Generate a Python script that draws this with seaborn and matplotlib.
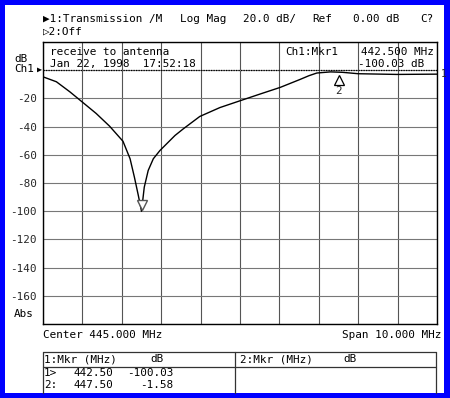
import numpy as np
import matplotlib
matplotlib.use("Agg")
import matplotlib.pyplot as plt
import seaborn as sns
from matplotlib.patches import Rectangle
from matplotlib.lines import Line2D

# Messkurve: Transmission in dB ueber Frequenz in MHz
freq_mhz = [440.00, 440.34, 440.68, 441.02, 441.35, 441.69, 442.03, 442.21,
            442.32, 442.42, 442.50, 442.57, 442.67, 442.80, 442.97, 443.35,
            443.56, 443.98, 444.49, 445.02, 445.51, 446.02, 446.52, 446.75,
            446.95, 447.30, 447.60, 448.00, 448.98, 450.00]
s21_db = [-4.7, -8.2, -15.3, -23.1, -30.7, -39.7, -50.4, -62.8,
          -75.9, -88.9, -100.03, -83.0, -71.1, -62.8, -56.9, -46.3,
          -41.6, -32.8, -26.5, -21.5, -16.9, -12.2, -6.6, -3.9,
          -2.0, -1.2, -1.5, -2.5, -3.0, -2.8]

# Marker
mkr_freq = [442.50, 447.50]
mkr_db = [-100.03, -1.58]

y_ticks = list(range(-180, 21, 20))
y_labels = ["" if t in (20, 0, -180) else str(t) for t in y_ticks]
x_ticks = list(range(440, 451))

W, H = 450, 398
MONO = ["DejaVu Sans Mono", "DejaVu Sans"]
FS = 7.9

sns.set_style("white")
plt.rcParams["font.family"] = MONO

fig = plt.figure(figsize=(W / 100, H / 100), dpi=100)
fig.patch.set_facecolor("#0000FF")
fig.add_artist(Rectangle((5 / W, 1 - 393 / H), 439 / W, 388 / H,
                         transform=fig.transFigure, facecolor="white",
                         edgecolor="none", zorder=-1))

def px(x, y):
    return x / W, 1 - y / H

def ftext(x, y, s, ha="left", size=FS):
    fx, fy = px(x, y)
    fig.text(fx, fy, s, ha=ha, va="center", fontsize=size, family=MONO,
             color="black")

def fline(x0, y0, x1, y1, lw=0.9, color="#333333"):
    a, b = px(x0, y0)
    c, d = px(x1, y1)
    fig.add_artist(Line2D([a, c], [b, d], transform=fig.transFigure,
                          color=color, lw=lw))

ax = fig.add_axes([43 / W, 1 - 324 / H, (437 - 43) / W, (324 - 42) / H])
ax.set_facecolor("white")

sns.lineplot(x=freq_mhz, y=s21_db, ax=ax, color="black", lw=1.0, zorder=3)

ax.set_xlim(440, 450)
ax.set_ylim(-180, 20)
ax.set_xticks(x_ticks)
ax.set_xticklabels([])
ax.set_yticks(y_ticks)
ax.set_yticklabels(y_labels, fontsize=FS, family=MONO)
ax.tick_params(length=0, pad=4.5)
ax.grid(True, axis="x", color="#555555", lw=0.8)
ax.grid(True, axis="y", color="#777777", lw=0.8)
ax.axhline(0, color="black", lw=0.9, ls=(0, (1, 1)), zorder=2)
ax.set_xlabel("")
ax.set_ylabel("")
for sp in ax.spines.values():
    sp.set_color("black")
    sp.set_linewidth(1.0)

# Marker 1 (aktiv) und Marker 2
ax.plot(mkr_freq[0], mkr_db[0] + 4.5, marker="v", ms=7, mfc="white",
        mec="#555555", mew=1.0, zorder=4)
ax.plot(mkr_freq[1], mkr_db[1] - 5.5, marker="^", ms=7, mfc="white",
        mec="black", mew=0.9, zorder=4)
ax.text(mkr_freq[1], mkr_db[1] - 13, "2", ha="center", va="center",
        fontsize=FS, family=MONO)
ax.annotate("1", xy=(freq_mhz[-1], s21_db[-1]), xytext=(2.5, 0),
            textcoords="offset points", ha="left", va="center",
            fontsize=FS - 1, family=MONO, annotation_clip=False)

# Kopfzeilen
ftext(43, 19, "\u25B61:Transmission /M")
ftext(180, 19, "Log Mag")
ftext(243, 19, "20.0 dB/")
ftext(312, 19, "Ref")
ftext(353, 19, "0.00 dB")
ftext(420, 19, "C?")
ftext(43, 32, "\u25B72:Off")

# Texte im Raster
ftext(50, 52, "receive to antenna")
ftext(50, 64, "Jan 22, 1998  17:52:18")
ftext(285, 52, "Ch1:Mkr1")
ftext(361, 52, f"{mkr_freq[0]:.3f} MHz")
ftext(358, 64, f"{mkr_db[0]:.2f} dB")

# Linke Beschriftung
ftext(14, 59, "dB")
ftext(14, 69, "Ch1")
ftext(37, 69, "\u25B6", size=6)
ftext(14, 314, "Abs")

# Unterzeile
ftext(43, 335, "Center 445.000 MHz")
ftext(441, 335, "Span 10.000 MHz", ha="right")

# Markertabelle
fline(43, 352, 436, 352)
fline(43, 352, 43, 393)
fline(436, 352, 436, 393)
fline(235, 352, 235, 393)
fline(43, 366.5, 436, 366.5)
ftext(44, 359, "1:Mkr (MHz)")
ftext(150, 359, "dB")
ftext(240, 359, "2:Mkr (MHz)")
ftext(343, 359, "dB")
rows = [("1>", mkr_freq[0], mkr_db[0]), ("2:", mkr_freq[1], mkr_db[1])]
for i, (lab, f, d) in enumerate(rows):
    y = 373 + 12 * i
    ftext(44, y, lab)
    ftext(73, y, f"{f:.2f}")
    ftext(173, y, f"{d:.2f}", ha="right")

fig.savefig("out.png", dpi=100)
